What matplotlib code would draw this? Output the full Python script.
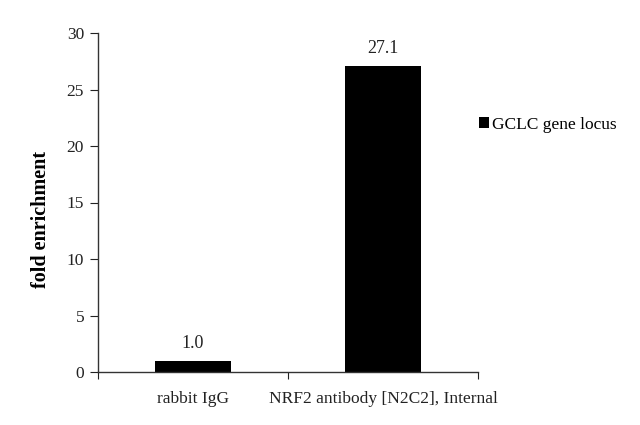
import matplotlib
matplotlib.use('Agg')
import matplotlib.pyplot as plt

categories = ['rabbit IgG', 'NRF2 antibody [N2C2], Internal']
values = [1.0, 27.1]
value_labels = ['1.0', '27.1']
series_name = 'GCLC gene locus'
yticks = [0, 5, 10, 15, 20, 25, 30]

plt.rcParams['font.family'] = ['Liberation Serif', 'DejaVu Serif']

fig = plt.figure(figsize=(6.4, 4.25), dpi=100)
ax = fig.add_axes([98 / 640, 53 / 425, 380 / 640, 339 / 425])

x = list(range(len(categories)))
ax.bar(x, values, width=0.4, color='black', label=series_name)
for xi, v, lab in zip(x, values, value_labels):
    ax.text(xi, v + 0.8, lab, ha='center', va='bottom', fontsize=13, color='#222222')

ax.set_xlim(-0.5, len(categories) - 0.5)
ax.set_ylim(0, 30)
ax.set_yticks(yticks)
ax.tick_params(axis='y', direction='out', length=6, labelsize=12.5, colors='#222222', pad=4)
ax.set_xticks([i + 0.5 for i in range(-1, len(categories))], minor=False)
ax.set_xticklabels([''] * (len(categories) + 1))
ax.set_xticks(x, minor=True)
ax.set_xticklabels(categories, minor=True)
ax.tick_params(axis='x', which='major', direction='out', length=5, colors='#222222')
ax.tick_params(axis='x', which='minor', length=0, labelsize=12.5, pad=14, colors='#222222')

for s in ['top', 'right']:
    ax.spines[s].set_visible(False)
for s in ['left', 'bottom']:
    ax.spines[s].set_color('#333333')
    ax.spines[s].set_linewidth(1.0)

ax.set_ylabel('fold enrichment', fontsize=14.5, fontweight='bold')
ax.yaxis.set_label_coords(-0.123, 0.45)

ax.legend(loc='center left', bbox_to_anchor=(0.985, 0.73), frameon=False,
          fontsize=12.5, handlelength=0.55, handleheight=0.55, handletextpad=0.2,
          borderaxespad=0.0)

fig.savefig('out.png', dpi=100)
